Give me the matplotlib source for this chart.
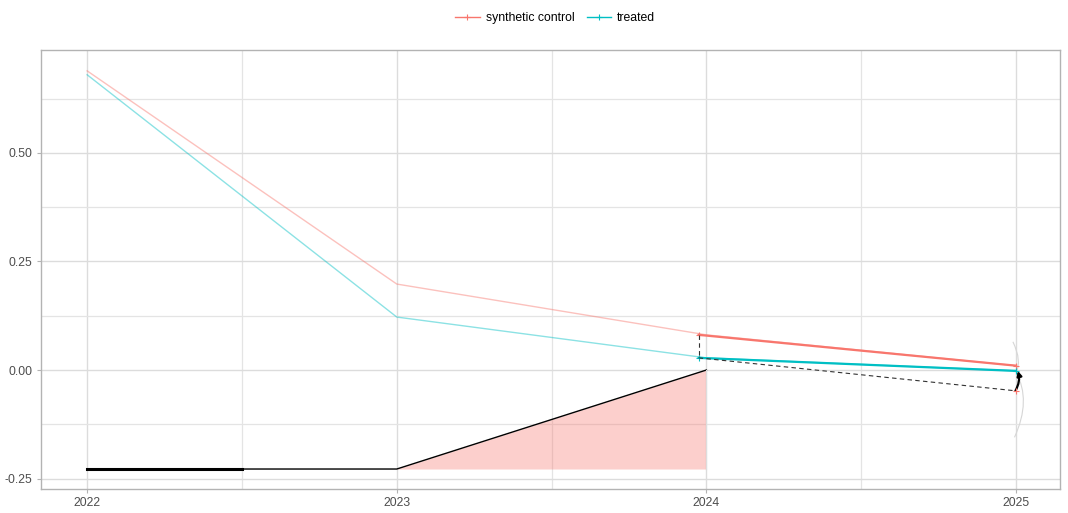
"""Synthetic-control style plot: synthetic vs treated trajectories with lambda ribbon."""
import numpy as np
import matplotlib
matplotlib.use("Agg")
import matplotlib.pyplot as plt
from matplotlib.patches import FancyArrowPatch, PathPatch
from matplotlib.path import Path

plt.rcParams["font.family"] = ["Liberation Sans", "DejaVu Sans"]

RED = "#F8766D"
TEAL = "#00BFC4"

years = [2022, 2023, 2024, 2025]
synthetic = [0.689, 0.198, 0.081, 0.010]
treated = [0.680, 0.122, 0.028, -0.002]

# weighted pre-period time and its averages
pre_time = 2023.975
post_time = 2025.0
synth_pre, synth_post = 0.081, 0.010
treated_pre, treated_post = 0.028, -0.002

# lambda weights ribbon along the bottom
lambda_years = [2022, 2023, 2024]
lambda_base = -0.228
lambda_top = [-0.228, -0.228, 0.0]

y_ticks = [-0.25, 0.0, 0.25, 0.5]
y_labels = ["-0.25", "0.00", "0.25", "0.50"]

fig = plt.figure(figsize=(10.68, 5.13), dpi=100)
ax = fig.add_axes([0.0384, 0.0468, 0.9541, 0.8557])

ax.set_xlim(2021.851, 2025.142)
ax.set_ylim(-0.274, 0.737)

# theme_light-ish grid
ax.set_xticks(years)
ax.set_xticks([2022.5, 2023.5, 2024.5], minor=True)
ax.set_yticks(y_ticks)
ax.set_yticklabels(y_labels)
ax.set_yticks([-0.125, 0.125, 0.375, 0.625], minor=True)
ax.grid(which="major", color="#DCDCDC", lw=1.0)
ax.grid(which="minor", color="#E4E4E4", lw=0.9)
ax.set_axisbelow(True)
for s in ax.spines.values():
    s.set_color("#B3B3B3")
    s.set_linewidth(1.0)
ax.tick_params(which="major", length=3, color="#B3B3B3", labelsize=8.8,
               labelcolor="#4D4D4D", pad=3)
ax.tick_params(which="minor", length=0)

# faded full trajectories
ax.plot(years, synthetic, color=RED, alpha=0.45, lw=1.0)
ax.plot(years, treated, color=TEAL, alpha=0.45, lw=1.0)

# lambda ribbon
ax.fill_between(lambda_years, lambda_base, lambda_top, color=RED, alpha=0.35, lw=0)
ax.plot(lambda_years, lambda_top, color="black", lw=1.0)
ax.plot([2022, 2022.5], [lambda_base, lambda_base], color="black", lw=2.2)
ax.plot([2024, 2024], [lambda_base, 0.0], color="#DDDDDD", lw=0.8)

# pre/post segments
ax.plot([pre_time, post_time], [synth_pre, synth_post], color=RED, lw=1.6,
        marker="+", ms=4, mew=0.8)
ax.plot([pre_time, post_time], [treated_pre, treated_post], color=TEAL, lw=1.6,
        marker="+", ms=4, mew=0.8)

# parallel-trend counterfactual
counterfactual = treated_pre + (synth_post - synth_pre) - 0.005
ax.plot([pre_time, pre_time], [synth_pre, treated_pre], color="#333333", lw=0.8,
        ls=(0, (4, 3)))
ax.plot([pre_time, post_time], [treated_pre, counterfactual], color="#333333",
        lw=0.8, ls=(0, (4, 3)))
ax.plot([post_time], [counterfactual], marker="+", color=RED, ms=4, mew=0.8)

# faint outline around the effect
verts = [(post_time - 0.01, 0.065), (post_time + 0.02, 0.02), (post_time + 0.0, -0.005),
         (post_time + 0.05, -0.07), (post_time - 0.005, -0.155)]
codes = [Path.MOVETO, Path.CURVE3, Path.CURVE3, Path.CURVE3, Path.CURVE3]
ax.add_patch(PathPatch(Path(verts, codes), fill=False, ec="#D6D6D6", lw=0.8))

# effect arrow
ax.add_patch(FancyArrowPatch((post_time - 0.002, counterfactual),
                             (post_time + 0.006, treated_post),
                             connectionstyle="arc3,rad=0.2", arrowstyle="-|>",
                             mutation_scale=7, color="black", lw=1.6,
                             shrinkA=0, shrinkB=0))

# legend on top
h1, = ax.plot([], [], color=RED, marker="+", ms=4, mew=0.8, lw=1.0)
h2, = ax.plot([], [], color=TEAL, marker="+", ms=4, mew=0.8, lw=1.0)
fig.legend([h1, h2], ["synthetic control", "treated"], loc="center",
           bbox_to_anchor=(0.52, 0.965), ncol=2, frameon=False, fontsize=8.8,
           handlelength=2.0, columnspacing=1.0, handletextpad=0.5)

fig.savefig("out.png", dpi=100)
